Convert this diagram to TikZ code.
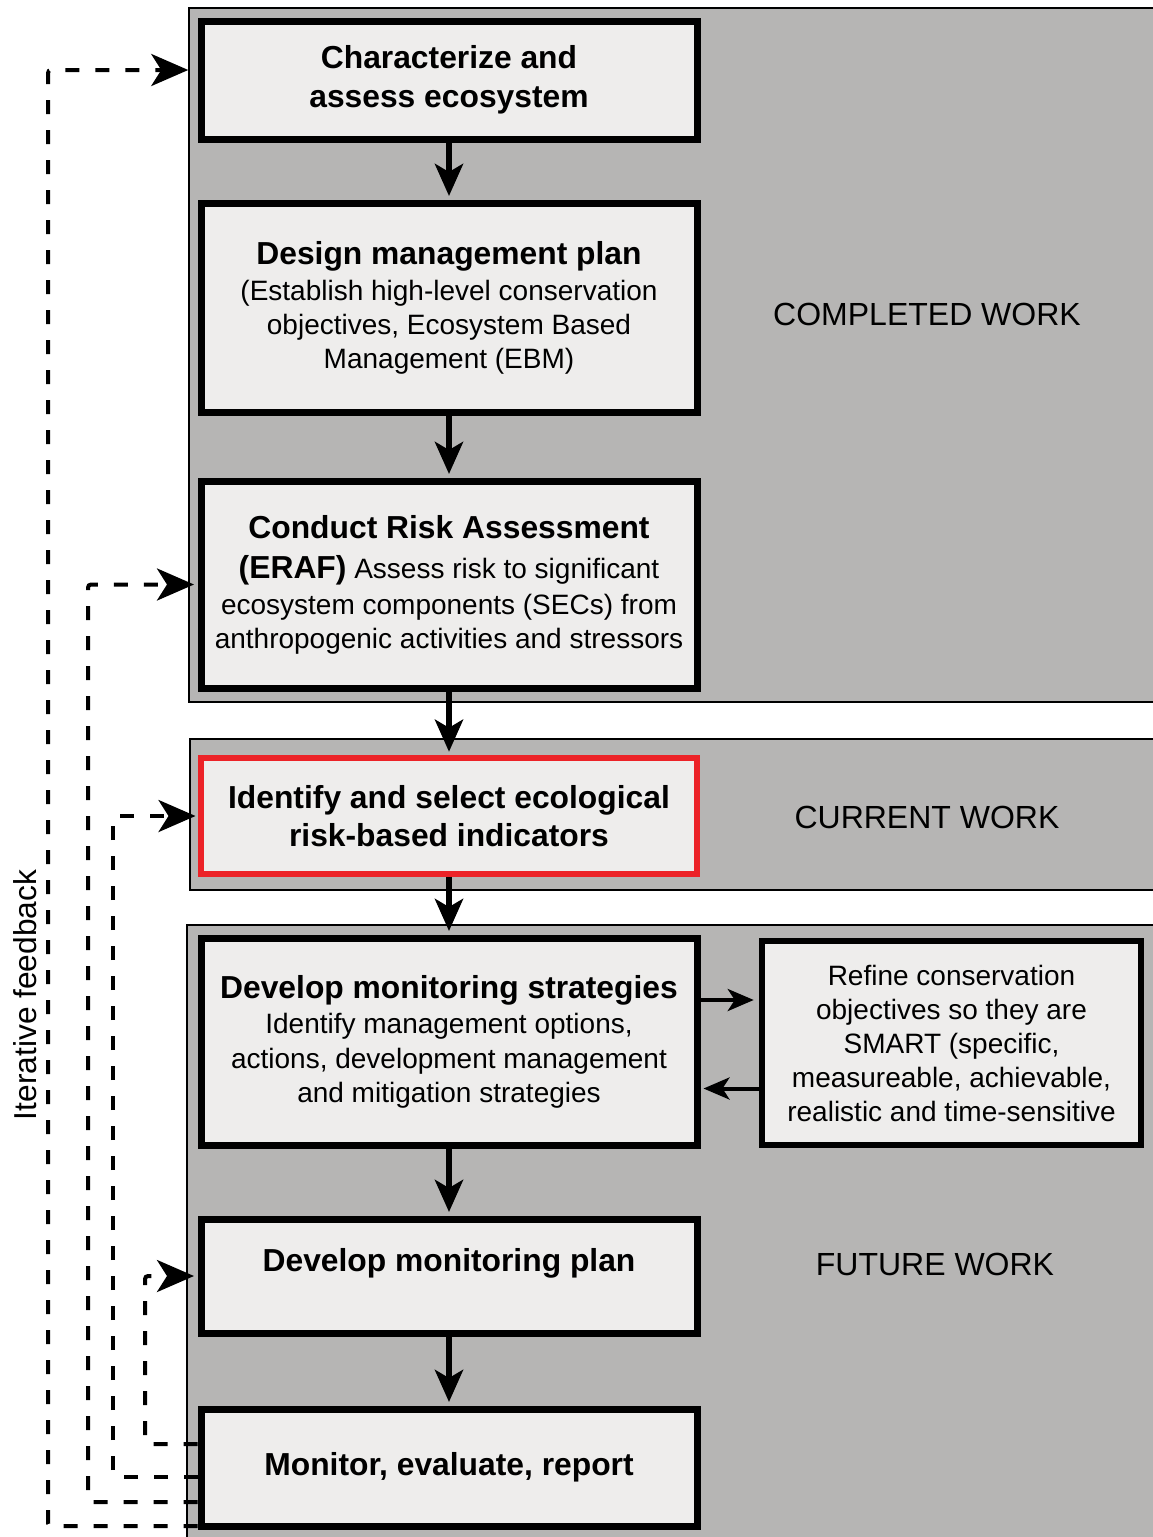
\documentclass[tikz,border=0pt]{standalone}
\usepackage{fontspec}
\setmainfont{Liberation Sans}
\usetikzlibrary{arrows.meta,calc}
\definecolor{panelgray}{HTML}{B6B5B4}
\definecolor{boxfill}{HTML}{EEEDEC}
\definecolor{redb}{HTML}{EC2227}
\newcommand{\ttl}{\fontsize{31.8}{39}\selectfont\bfseries}
\newcommand{\bdy}{\fontsize{28}{34}\selectfont\mdseries}
\begin{document}
\begin{tikzpicture}[x=1pt,y=-1pt,
 panel/.style={draw=black, line width=1.5pt, fill=panelgray, inner sep=0pt},
 box/.style={draw=black, line width=7pt, fill=boxfill, minimum width=496pt, align=center, inner sep=0pt},
 tbox/.style={box, font=\ttl},
 bbox/.style={box, font=\bdy},
 flow/.style={line width=6pt, shorten >=3.5pt, -{Stealth[length=32pt,width=28pt,inset=8pt]}},
 flowb/.style={line width=4pt, -{Stealth[length=26pt,width=22pt,inset=7pt]}},
 fb/.style={line width=4pt, dash pattern=on 14pt off 16pt, rounded corners=3pt, -{Stealth[length=37pt,width=32pt,inset=10pt]}},
 lab/.style={font=\fontsize{32}{38}\selectfont}
]
\useasboundingbox (0,0) rectangle (1152,1537);
% panels
\node[panel, minimum width=971pt, minimum height=694pt] (p1) at (674.5,355) {};
\node[panel, minimum width=970pt, minimum height=151pt] (p2) at (675,814.5) {};
\node[panel, minimum width=973pt, minimum height=635pt] (p3) at (673.5,1242.5) {};
\node[lab] (l1) at (927,314) {COMPLETED WORK};
\node[lab] (l2) at (927,817) {CURRENT WORK};
\node[lab] (l3) at (935,1264) {FUTURE WORK};
% boxes
\node[tbox, minimum height=118pt] (b1) at (449,80) {Characterize and\\ assess ecosystem};
\node[bbox, minimum height=209pt] (b2) at (449,307.5) {{\ttl Design management plan}\\[2pt] (Establish high-level conservation\\ objectives, Ecosystem Based\\ Management (EBM)};
\node[bbox, minimum height=207pt] (b3) at (449,584.5) {{\ttl Conduct Risk Assessment}\\[6pt] {\ttl (ERAF)} Assess risk to significant\\[2pt] ecosystem components (SECs) from\\ anthropogenic activities and stressors};
\node[tbox, draw=redb, line width=5.5pt, minimum height=116pt, font=\fontsize{31.8}{38}\selectfont\bfseries] (b4) at (449,816) {Identify and select ecological\\ risk-based indicators};
\node[bbox, minimum height=207pt] (b5) at (449,1041.5) {{\ttl Develop monitoring strategies}\\[1pt] Identify management options,\\[1pt] actions, development management\\ and mitigation strategies};
\node[box, minimum height=114pt] (b6) at (449,1276) {};
\node[font=\ttl] (t6) at ([yshift=13pt]b6.center) {Develop monitoring plan};
\node[tbox, minimum height=117pt] (b7) at (449,1467.5) {Monitor, evaluate, report};
\node[bbox, line width=6.5pt, minimum width=379pt, minimum height=204pt] (sm) at (951.5,1043) {Refine conservation\\ objectives so they are\\ SMART (specific,\\ measureable, achievable,\\ realistic and time-sensitive};
% flow arrows
\draw[flow] (b1.south) -- (b2.north);
\draw[flow] (b2.south) -- (b3.north);
\draw[flow] (b3.south) -- (b4.north);
\draw[flow] (b4.south) -- (b5.north);
\draw[flow] (b5.south) -- (b6.north);
\draw[flow] (b6.south) -- (b7.north);
\coordinate (a1) at ([yshift=41.5pt]b5.east);
\coordinate (a2) at ([yshift=-45.5pt]sm.west);
\draw[flowb, shorten >=5pt] (a1) -- (a1 -| sm.west);
\draw[flowb, shorten >=3pt] (a2) -- (a2 -| b5.east);
% feedback
\coordinate (c1) at (48,70);
\coordinate (c2) at (88,584.5);
\coordinate (c3) at (113,816);
\coordinate (c4) at (145,1276);
\draw[fb] ([yshift=-58.5pt]b7.west) -| (c1) -- (c1 -| p1.west);
\draw[fb, shorten >=3.5pt] ([yshift=-34.5pt]b7.west) -| (c2) -- (b3.west);
\draw[fb, shorten >=2.75pt] ([yshift=-9.5pt]b7.west) -| (c3) -- (b4.west);
\draw[fb, shorten >=3.5pt] ([yshift=23.5pt]b7.west) -| (c4) -- (b6.west);
\node[rotate=90, font=\fontsize{31.7}{38}\selectfont] (itf) at (25,995) {Iterative feedback};
\end{tikzpicture}
\end{document}
